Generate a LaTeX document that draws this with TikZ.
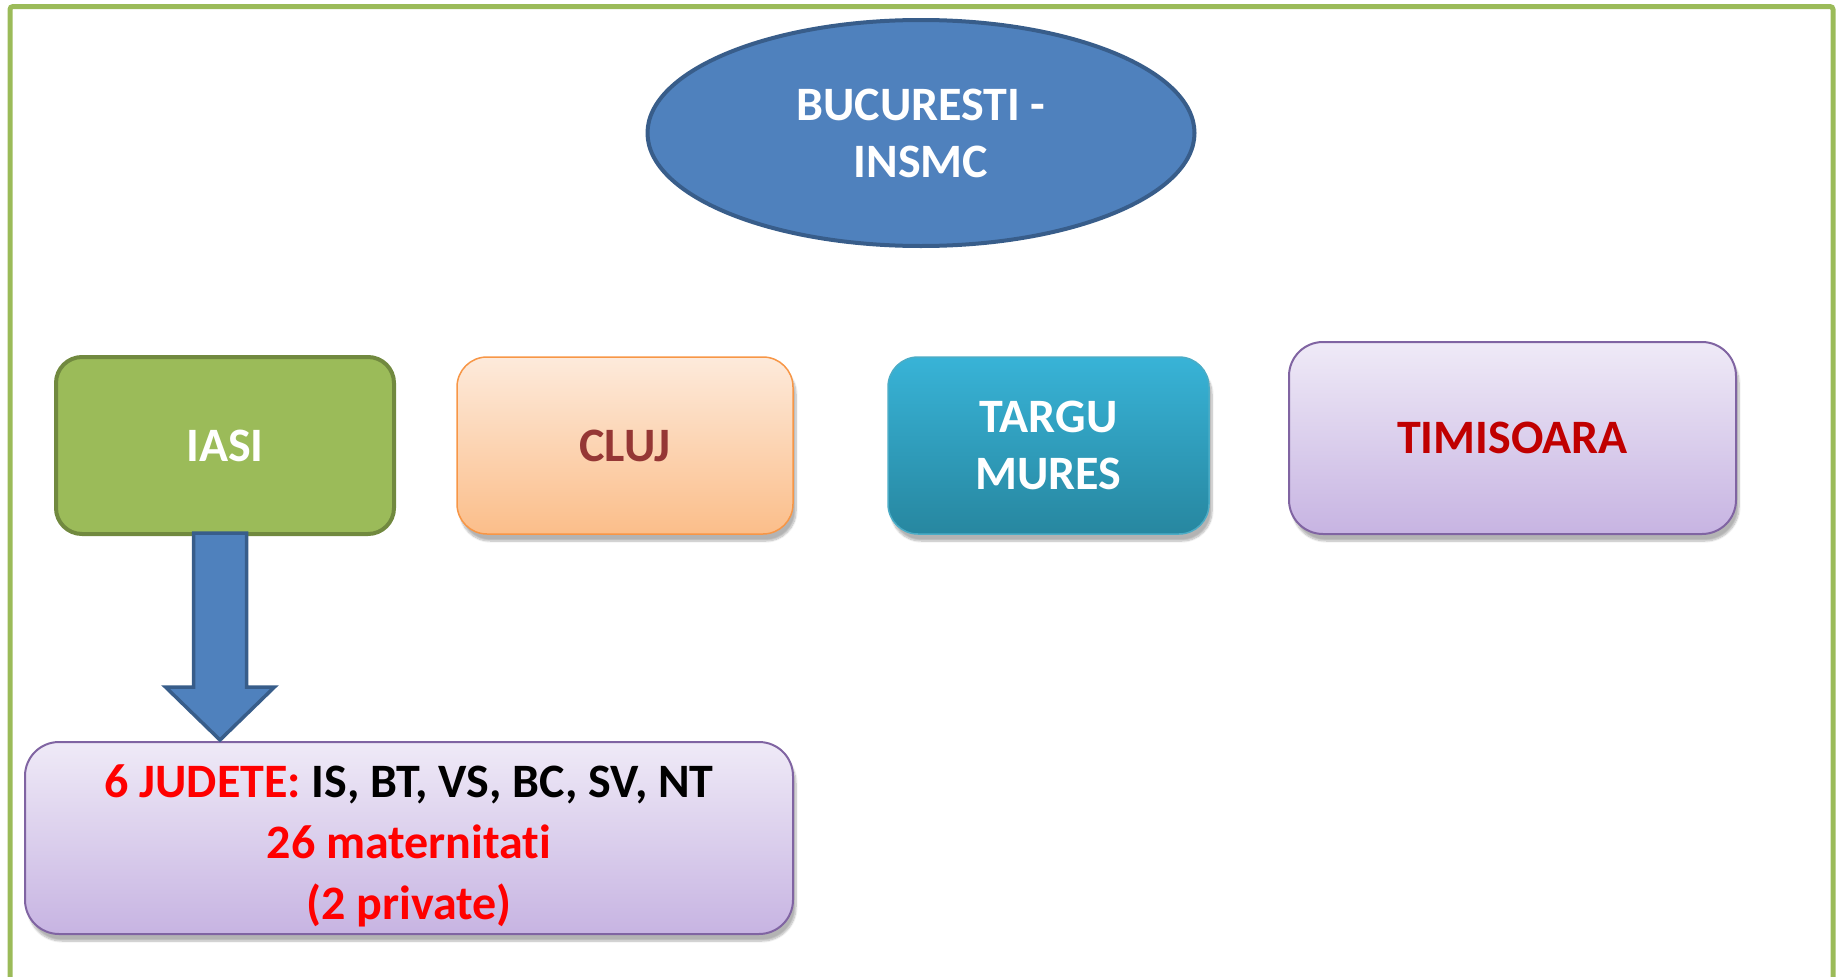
\documentclass[tikz,border=0pt]{standalone}
\usepackage{fontspec}
\setmainfont{Carlito}[Ligatures=NoCommon]
\usetikzlibrary{shapes.geometric,shadows.blur,calc}
\definecolor{frameg}{HTML}{9BBB59}
\definecolor{bluef}{HTML}{4F81BD}
\definecolor{blued}{HTML}{385D8A}
\definecolor{greenf}{HTML}{9BBB59}
\definecolor{greend}{HTML}{71893F}
\definecolor{orgtop}{HTML}{FDEADB}
\definecolor{orgbot}{HTML}{FBBE8A}
\definecolor{orgd}{HTML}{F79646}
\definecolor{clujtxt}{HTML}{953735}
\definecolor{aquatop}{HTML}{38B3D7}
\definecolor{aquabot}{HTML}{2787A0}
\definecolor{aquad}{HTML}{4BACC6}
\definecolor{purtop}{HTML}{EFEAF7}
\definecolor{purbot}{HTML}{C7B4E2}
\definecolor{purd}{HTML}{8064A2}
\definecolor{timtxt}{HTML}{C00000}
\definecolor{redt}{HTML}{FF0000}
\tikzset{
  bigfont/.style={font=\fontsize{48}{57}\selectfont\bfseries},
  botfont/.style={font=\fontsize{48}{61}\selectfont\bfseries},
  softshadow/.style={blur shadow={shadow xshift=3pt, shadow yshift=-7pt, shadow blur steps=8, shadow blur extra rounding=4pt, shadow opacity=30}},
  boxbase/.style={rectangle, rounded corners=30pt, align=center, inner sep=0pt, minimum height=177pt},
  iasibox/.style={boxbase, fill=greenf, draw=greend, line width=4pt, text=white, rounded corners=26pt},
  clujbox/.style={boxbase, softshadow, top color=orgtop, bottom color=orgbot, draw=orgd, line width=1.5pt, text=clujtxt},
  aquabox/.style={boxbase, softshadow, top color=aquatop, bottom color=aquabot, draw=aquad, line width=1.5pt, text=white},
  purbox/.style={boxbase, softshadow, top color=purtop, bottom color=purbot, draw=purd, line width=2pt, rounded corners=34pt},
  ellbox/.style={ellipse, fill=bluef, draw=blued, line width=4pt, text=white, align=center, inner sep=0pt},
  blockarrow/.style={fill=bluef, draw=blued, line width=3.5pt, line join=miter}
}
\begin{document}
\begin{tikzpicture}[x=1pt,y=-1pt]
\useasboundingbox (0,0) rectangle (1837,977);
\draw[frameg, line width=5pt, rounded corners=3pt] (10,980) -- (10,6.5) -- (1833,6.5) -- (1833,980);

\node[ellbox, bigfont, minimum width=547pt, minimum height=226pt] (buc) at (921,133) {BUCURESTI -\\INSMC};

\node[iasibox, bigfont, minimum width=338pt] (iasi) at (225,445.5) {IASI};
\node[clujbox, bigfont, minimum width=336pt] (cluj) at (625,445.5) {CLUJ};
\node[aquabox, bigfont, minimum width=321pt] (targu) at (1048.5,445.5) {TARGU\\MURES};
\node[purbox, bigfont, text=timtxt, minimum width=447pt, minimum height=192pt] (tim) at (1512.5,438) {TIMISOARA};

\node[purbox, botfont, minimum width=768pt, minimum height=192pt] (bot) at (409,838)
  {\rule{0pt}{48pt}{\color{redt}6 JUDETE:} IS, BT, VS, BC, SV, NT\\{\color{redt}26 maternitati}\\{\color{redt}(2 private)}};

\coordinate (atail) at (220,533);
\coordinate (atip) at (220,740);
\draw[blockarrow] ($(atail)+(-26.5,0)$) -- ($(atail)+(26.5,0)$) -- ($(atip)+(26.5,-53)$) -- ($(atip)+(54.5,-53)$) -- (atip) -- ($(atip)+(-54.5,-53)$) -- ($(atip)+(-26.5,-53)$) -- cycle;
\end{tikzpicture}
\end{document}
